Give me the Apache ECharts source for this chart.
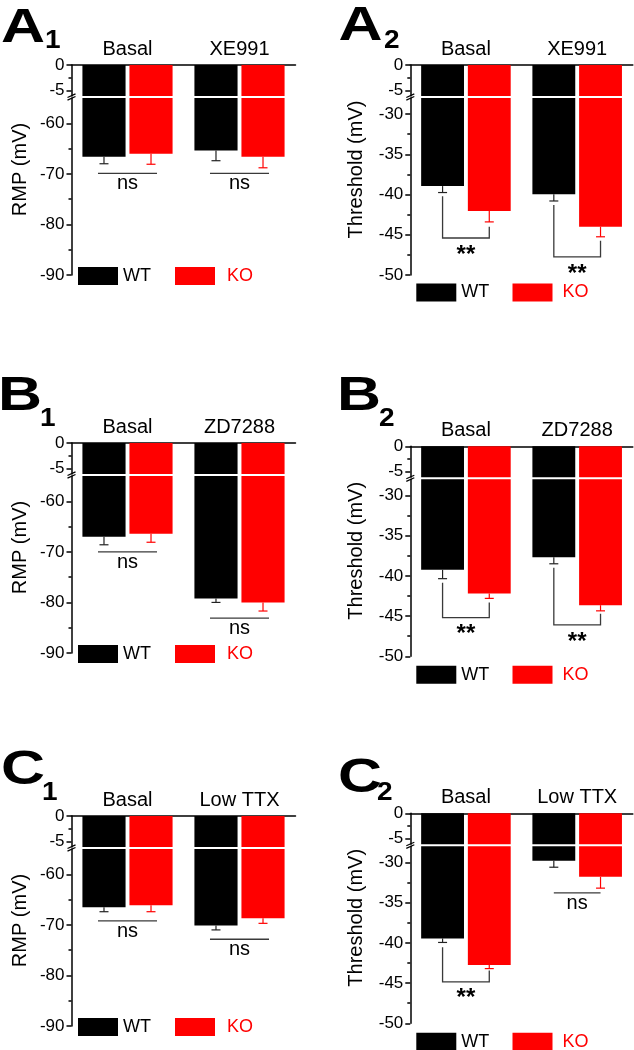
<!DOCTYPE html>
<html><head><meta charset="utf-8">
<script src="https://cdn.jsdelivr.net/npm/echarts@6/dist/echarts.min.js"></script>
<style>html,body{margin:0;padding:0;background:#fff}#c{width:634px;height:1050px}</style>
</head><body><div id="c"></div>
<script>
// ---------- data ----------
const catsA = ['Basal', 'XE991'];
const catsB = ['Basal', 'ZD7288'];
const catsC = ['Basal', 'Low TTX'];
const seriesNames = ['WT', 'KO'];

// axis ranges & ticks (broken axis: upper segment + lower segment)
const UPPER_RANGE = [-6.1, 0];
const UPPER_TICKS = [0, -5];
const UPPER_MINOR = [-2.5];
const RMP_RANGE = [-90, -55];
const RMP_TICKS = [-60, -70, -80, -90];
const RMP_MINOR = [-65, -75, -85];
const TH_RANGE = [-50, -28];
const TH_TICKS = [-30, -35, -40, -45, -50];
const TH_MINOR = [-32.5, -37.5, -42.5, -47.5];

// A1 RMP
const A1_WT = [-66.6, -65.4];
const A1_WT_ERR = [-68.0, -67.4];
const A1_KO = [-66.0, -66.6];
const A1_KO_ERR = [-68.1, -68.8];
const A1_SIG = [[0, -69.9, null, null, 'ns'], [1, -69.9, null, null, 'ns']];
// A2 Threshold
const A2_WT = [-38.95, -39.95];
const A2_WT_ERR = [-39.75, -40.8];
const A2_KO = [-42.05, -44.0];
const A2_KO_ERR = [-43.4, -45.25];
const A2_SIG = [[0, -45.4, -40.2, -44.0, '**'], [1, -47.75, -41.3, -45.75, '**']];
// B1 RMP
const B1_WT = [-67.0, -79.2];
const B1_WT_ERR = [-68.6, -80.0];
const B1_KO = [-66.4, -80.0];
const B1_KO_ERR = [-68.1, -81.7];
const B1_SIG = [[0, -70.0, null, null, 'ns'], [1, -83.1, null, null, 'ns']];
// B2 Threshold
const B2_WT = [-39.25, -37.7];
const B2_WT_ERR = [-40.35, -38.5];
const B2_KO = [-42.2, -43.65];
const B2_KO_ERR = [-42.8, -44.35];
const B2_SIG = [[0, -45.2, -40.85, -43.3, '**'], [1, -46.1, -39.0, -44.7, '**']];
// C1 RMP
const C1_WT = [-66.5, -70.15];
const C1_WT_ERR = [-67.4, -71.0];
const C1_KO = [-66.1, -68.7];
const C1_KO_ERR = [-67.4, -69.7];
const C1_SIG = [[0, -69.2, null, null, 'ns'], [1, -72.85, null, null, 'ns']];
// C2 Threshold
const C2_WT = [-39.45, -29.8];
const C2_WT_ERR = [-39.95, -30.6];
const C2_KO = [-42.75, -31.8];
const C2_KO_ERR = [-43.2, -33.2];
const C2_SIG = [[0, -44.85, -40.55, -43.45, '**'], [1, -33.8, null, null, 'ns']];

// ---------- layout / style ----------
const FONT = "'Liberation Sans', Arial, sans-serif";
const BAR_GAP = 0.09, CAT_GAP = 0.195;
const COLORS = ['#000000', '#ff0000'];
const LINE_C = '#3a3a3a';
const LAB_F = 48, SUB_F = 25;

const panels = [
  {lab: 'A', sub: '1', cats: catsA, wt: A1_WT, wtE: A1_WT_ERR, ko: A1_KO, koE: A1_KO_ERR, sig: A1_SIG, kind: 'rmp', col: 0, y0: 65, ext: 6,
   labPos: [1, 45, 45, 50], legY: 202},
  {lab: 'A', sub: '2', cats: catsA, wt: A2_WT, wtE: A2_WT_ERR, ko: A2_KO, koE: A2_KO_ERR, sig: A2_SIG, kind: 'th', col: 1, y0: 65, ext: 0,
   labPos: [338.5, 43.5, 384, 50], legY: 218.5},
  {lab: 'B', sub: '1', cats: catsB, wt: B1_WT, wtE: B1_WT_ERR, ko: B1_KO, koE: B1_KO_ERR, sig: B1_SIG, kind: 'rmp', col: 0, y0: 443, ext: 6,
   labPos: [-2, 413, 40, 428], legY: 202},
  {lab: 'B', sub: '2', cats: catsB, wt: B2_WT, wtE: B2_WT_ERR, ko: B2_KO, koE: B2_KO_ERR, sig: B2_SIG, kind: 'th', col: 1, y0: 446.3, ext: 0,
   labPos: [337, 413, 379, 428], legY: 219.5},
  {lab: 'C', sub: '1', cats: catsC, wt: C1_WT, wtE: C1_WT_ERR, ko: C1_KO, koE: C1_KO_ERR, sig: C1_SIG, kind: 'rmp', col: 0, y0: 816, ext: 6,
   labPos: [1, 787, 42, 802], legY: 202},
  {lab: 'C', sub: '2', cats: catsC, wt: C2_WT, wtE: C2_WT_ERR, ko: C2_KO, koE: C2_KO_ERR, sig: C2_SIG, kind: 'th', col: 1, y0: 813.3, ext: 0,
   labPos: [338, 795, 377, 802], legY: 219.5}
];

function yAxisDef(grid, range, ticks, major, len) {
  return {
    type: 'value', gridIndex: grid, position: 'left', min: range[0], max: range[1],
    axisLine: {show: major, onZero: false, lineStyle: {color: '#000', width: 1.5}},
    axisTick: {show: true, length: len, customValues: ticks, lineStyle: {color: '#000', width: 1.5}},
    axisLabel: {show: major, customValues: ticks, color: '#000', fontSize: 17, fontFamily: FONT, margin: 7},
    splitLine: {show: false}
  };
}

function barCenters(api, cat, val) {
  const c = api.coord([cat, val]);
  const w = api.size([1, 0])[0];
  const bw = w * (1 - CAT_GAP) / (2 + BAR_GAP);
  const d = bw * (1 + BAR_GAP) / 2;
  return {cx: c[0], wx: c[0] - d, kx: c[0] + d, y: c[1]};
}

const opt = {animation: false, backgroundColor: '#fff', textStyle: {fontFamily: FONT},
  grid: [], xAxis: [], yAxis: [], series: [], legend: [], graphic: []};

panels.forEach(p => {
  const left = p.col === 0 ? 71.5 : 410.3;
  const width = p.col === 0 ? 224 : 222.5;
  const gU = opt.grid.length;
  opt.grid.push({left: left, top: p.y0, width: width, height: 31});
  opt.grid.push({left: left, top: p.y0 + 33, width: width, height: 177});

  const xU = opt.xAxis.length;
  opt.xAxis.push({type: 'category', gridIndex: gU, data: p.cats, position: 'top',
    axisLine: {onZero: false, lineStyle: {color: '#000', width: 1.5}}, axisTick: {show: false},
    axisLabel: {color: '#000', fontSize: 20, fontFamily: FONT, margin: 6, interval: 0}, splitLine: {show: false}});
  opt.xAxis.push({type: 'category', gridIndex: gU + 1, data: p.cats, show: false});

  const lowRange = p.kind === 'rmp' ? RMP_RANGE : TH_RANGE;
  const lowTicks = p.kind === 'rmp' ? RMP_TICKS : TH_TICKS;
  const lowMinor = p.kind === 'rmp' ? RMP_MINOR : TH_MINOR;
  const yU = opt.yAxis.length;
  opt.yAxis.push(yAxisDef(gU, UPPER_RANGE, UPPER_TICKS, true, 5));
  opt.yAxis.push(yAxisDef(gU, UPPER_RANGE, UPPER_MINOR, false, 3));
  opt.yAxis.push(yAxisDef(gU + 1, lowRange, lowTicks, true, 5));
  opt.yAxis.push(yAxisDef(gU + 1, lowRange, lowMinor, false, 3));

  // bars in both segments
  [p.wt, p.ko].forEach((vals, k) => {
    [0, 1].forEach(seg => {
      opt.series.push({type: 'bar', name: seriesNames[k], xAxisIndex: xU + seg, yAxisIndex: seg ? yU + 2 : yU,
        data: vals, barGap: (BAR_GAP * 100) + '%', barCategoryGap: (CAT_GAP * 100) + '%',
        itemStyle: {color: COLORS[k]}, clip: true, silent: true});
    });
  });

  // error bars
  const errData = [];
  p.cats.forEach((c, i) => {
    errData.push([i, p.wt[i], p.wtE[i], 0]);
    errData.push([i, p.ko[i], p.koE[i], 1]);
  });
  opt.series.push({type: 'custom', xAxisIndex: xU + 1, yAxisIndex: yU + 2, data: errData, silent: true, z: 5,
    renderItem: (params, api) => {
      const cat = api.value(0), which = api.value(3);
      const b = barCenters(api, cat, api.value(1));
      const e = api.coord([cat, api.value(2)]);
      const x = which ? b.kx : b.wx;
      const col = which ? '#ff0000' : '#222';
      return {type: 'group', children: [
        {type: 'line', shape: {x1: x, y1: b.y, x2: x, y2: e[1]}, style: {stroke: col, lineWidth: 1.2}},
        {type: 'line', shape: {x1: x - 4.5, y1: e[1], x2: x + 4.5, y2: e[1]}, style: {stroke: col, lineWidth: 1.2}}
      ]};
    }});

  // significance annotations
  const sig = p.sig;
  const ext = p.ext;
  opt.series.push({type: 'custom', xAxisIndex: xU + 1, yAxisIndex: yU + 2,
    data: sig.map(s => [s[0], s[1]]), silent: true, z: 6,
    renderItem: (params, api) => {
      const s = sig[params.dataIndex];
      const b = barCenters(api, s[0], s[1]);
      const children = [];
      if (s[4] === 'ns') {
        children.push({type: 'line', shape: {x1: b.wx - ext, y1: b.y, x2: b.kx + ext, y2: b.y},
          style: {stroke: LINE_C, lineWidth: 1.3}});
        children.push({type: 'text', style: {text: 'ns', x: b.cx, y: b.y + 10.5, fill: '#000',
          font: '20px ' + FONT, align: 'center', verticalAlign: 'middle'}});
      } else {
        const w1 = api.coord([s[0], s[2]])[1];
        const k1 = api.coord([s[0], s[3]])[1];
        children.push({type: 'polyline', shape: {points: [[b.wx, w1], [b.wx, b.y], [b.kx, b.y], [b.kx, k1]]},
          style: {stroke: LINE_C, lineWidth: 1.3, fill: null}});
        children.push({type: 'text', style: {text: '**', x: b.cx, y: b.y + 17, fill: '#000',
          font: 'bold 24px ' + FONT, align: 'center', verticalAlign: 'middle'}});
      }
      return {type: 'group', children: children};
    }});

  // legends
  const lx = p.col === 0 ? [78, 175] : [416.3, 512.5];
  const kpad = p.col === 0 ? 7 : 5;
  seriesNames.forEach((n, k) => {
    opt.legend.push({data: [{name: n, icon: 'rect'}], left: lx[k], top: p.y0 + p.legY, padding: 0,
      itemWidth: 40, itemHeight: 18, selectedMode: false,
      textStyle: {color: COLORS[k], fontSize: 18, fontFamily: FONT, padding: k ? [0, 0, 0, kpad] : 0}});
  });

  // y axis title
  opt.graphic.push({type: 'text', x: p.col === 0 ? 20 : 356.5, y: p.y0 + 104.5, rotation: Math.PI / 2,
    style: {text: p.kind === 'rmp' ? 'RMP (mV)' : 'Threshold (mV)', font: '20px ' + FONT, fill: '#000',
      align: 'center', verticalAlign: 'middle'}});

  // panel label
  const L = p.labPos;
  opt.graphic.push({type: 'text', x: L[0], y: L[1] + 0.1535 * LAB_F, scaleX: 1.27,
    style: {text: p.lab, font: 'bold ' + LAB_F + 'px ' + FONT, fill: '#000', align: 'left', verticalAlign: 'bottom'}});
  opt.graphic.push({type: 'text', x: L[2], y: L[3] + 0.1535 * SUB_F, scaleX: 1.12,
    style: {text: p.sub, font: 'bold ' + SUB_F + 'px ' + FONT, fill: '#000', align: 'left', verticalAlign: 'bottom'}});

  // axis break marks
  const m = p.y0 + 32;
  [-1.3, 1.3].forEach(o => {
    opt.graphic.push({type: 'line', shape: {x1: left - 4, y1: m + o + 1.8, x2: left + 4, y2: m + o - 1.8},
      style: {stroke: '#000', lineWidth: 1.2}, z: 10});
  });
});

const chart = echarts.init(document.getElementById('c'), null, {renderer: 'canvas'});
chart.setOption(opt);
</script>
</body></html>
